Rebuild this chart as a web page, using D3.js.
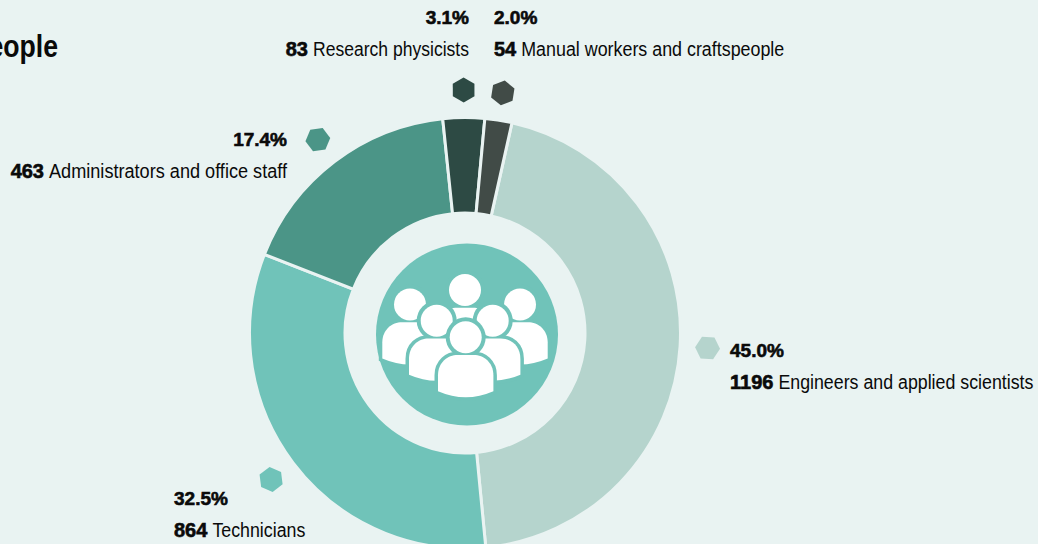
<!DOCTYPE html>
<html>
<head>
<meta charset="utf-8">
<script src="https://d3js.org/d3.v7.min.js"></script>
<style>
  html, body { margin: 0; padding: 0; background: #e9f3f2; overflow: hidden; }
  svg { display: block; }
  text { font-family: "Liberation Sans", sans-serif; fill: #0a0a0a; }
  .pct { font-size: 19px; font-weight: 700; stroke: #0a0a0a; stroke-width: .6px; }
  .num { font-size: 20px; font-weight: 700; stroke: #0a0a0a; stroke-width: .6px; }
  .name { font-size: 20px; }
  .title { font-size: 31px; font-weight: 700; }
</style>
</head>
<body>
<div id="chart"></div>
<script>
const categories = ['Engineers and applied scientists', 'Technicians', 'Administrators and office staff', 'Research physicists', 'Manual workers and craftspeople']
const counts = [1196, 864, 463, 83, 54]
const percents = ['45.0%', '32.5%', '17.4%', '3.1%', '2.0%']
const colors = ['#b5d4cd', '#70c3b9', '#4b9587', '#2d4a44', '#414b47']

// where each label block sits: x, percent baseline, anchor, squeezed name width
const labelX = [730, 174, 287, 469, 494]
const labelY = [357, 505, 145.5, 24, 24]
const anchors = ['start', 'start', 'end', 'end', 'start']
const nameWidths = [255, 93, 238, 156, 263]

const w = 1038
const h = 544
const cx = 465
const cy = 333
const outer = 215.5
const inner = 120

const svg = d3.select('#chart')
  .append('svg')
  .attr('width', w)
  .attr('height', h)

svg.append('text')
  .attr('class', 'title')
  .attr('transform', `translate(58,57) scale(0.86,1)`)
  .attr('text-anchor', 'end')
  .text('people')

const start = 12.6 * Math.PI / 180
const pie = d3.pie()
  .value(d => d)
  .sort(null)
  .startAngle(start)
  .endAngle(start + 2 * Math.PI)

const arc = d3.arc().innerRadius(inner).outerRadius(outer)
const slices = pie(counts)

const g = svg.append('g').attr('transform', `translate(${cx},${cy})`)

g.selectAll('path.slice')
  .data(slices)
  .enter()
  .append('path')
  .attr('class', 'slice')
  .attr('d', arc)
  .attr('fill', (d, i) => colors[i])
  .attr('stroke', '#e9f3f2')
  .attr('stroke-width', 3)

// hexagon markers sit on the radial line through each slice's middle
const hexR = 12.5
const hexPoints = d3.range(6).map(i => {
  const a = i * Math.PI / 3
  return [hexR * Math.sin(a), -hexR * Math.cos(a)]
})
const hexLine = d3.line().curve(d3.curveLinearClosed)

g.selectAll('path.hex')
  .data(slices)
  .enter()
  .append('path')
  .attr('class', 'hex')
  .attr('d', hexLine(hexPoints))
  .attr('fill', (d, i) => colors[i])
  .attr('transform', d => {
    const mid = (d.startAngle + d.endAngle) / 2
    return `rotate(${mid * 180 / Math.PI}) translate(0,-243)`
  })

// labels: number and name are separate so only the name gets squeezed
const gap = 5
categories.forEach((name, i) => {
  const x = labelX[i]
  const y = labelY[i] + 32

  svg.append('text')
    .attr('class', 'pct')
    .attr('x', x)
    .attr('y', labelY[i])
    .attr('text-anchor', anchors[i])
    .text(percents[i])

  const num = svg.append('text')
    .attr('class', 'num')
    .attr('y', y)
    .attr('text-anchor', anchors[i])
    .text(counts[i])

  const numW = num.node().getComputedTextLength()
  const nameStart = anchors[i] === 'start' ? x + numW + gap : x - nameWidths[i]
  num.attr('x', anchors[i] === 'start' ? x : nameStart - gap)

  svg.append('text')
    .attr('class', 'name')
    .attr('x', nameStart)
    .attr('y', y)
    .attr('textLength', nameWidths[i])
    .attr('lengthAdjust', 'spacingAndGlyphs')
    .text(name)
})

// people icon in the middle
const teal = '#70c3b9'
const icon = svg.append('g').attr('transform', 'translate(467,334.5)')
icon.append('circle').attr('r', 91).attr('fill', teal)

const people = [[-2, -44.5], [-57, -30], [53, -30], [-30.3, -13.8], [25.7, -13.8], [-1.3, 2.8]]
const bodyPath = 'M-27.7,54 V38 C-27.7,25 -18,17.7 -8,17.7 H8 C18,17.7 27.7,25 27.7,38 V54 Q0,66 -27.7,54 Z'

people.forEach(p => {
  const person = icon.append('g').attr('transform', `translate(${p[0]},${p[1]})`)
  person.append('circle').attr('r', 20).attr('fill', teal)
  person.append('path')
    .attr('d', bodyPath)
    .attr('fill', '#fff')
    .attr('stroke', teal)
    .attr('stroke-width', 7)
    .attr('paint-order', 'stroke')
  person.append('circle').attr('r', 16).attr('fill', '#fff')
})
</script>
</body>
</html>
